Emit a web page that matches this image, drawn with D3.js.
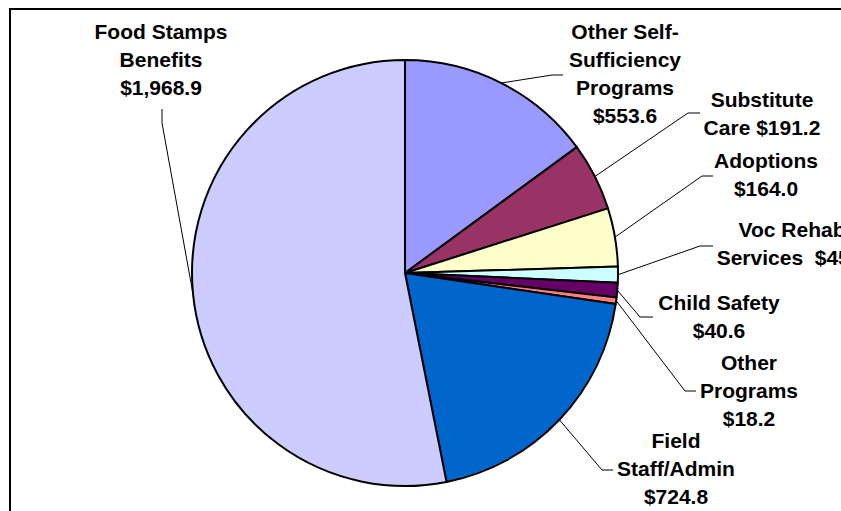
<!DOCTYPE html>
<html>
<head>
<meta charset="utf-8">
<script src="https://cdn.jsdelivr.net/npm/d3@7"></script>
<style>
  html, body { margin: 0; padding: 0; background: #fff; }
  svg { display: block; }
  text { font-family: "Liberation Sans", Arial, sans-serif; font-weight: bold; font-size: 21px; fill: #000; }
</style>
</head>
<body>
<svg id="chart" width="841" height="511"></svg>
<script>
// Budget by program area ($ millions), clockwise from 12 o'clock
const categories = [
  "Other Self-Sufficiency Programs",
  "Substitute Care",
  "Adoptions",
  "Voc Rehab Services",
  "Child Safety",
  "Other Programs",
  "Field Staff/Admin",
  "Food Stamps Benefits"
];
const values = [553.6, 191.2, 164.0, 45.1, 40.6, 18.2, 724.8, 1968.9];
const colors = ["#9999FF", "#993366", "#FFFFCC", "#CCFFFF", "#660066", "#FF8080", "#0066CC", "#CCCCFF"];

// How each label wraps; "{v}" is replaced by the formatted value
const labelLines = [
  ["Other Self-", "Sufficiency", "Programs", "{v}"],
  ["Substitute", "Care {v}"],
  ["Adoptions", "{v}"],
  ["Voc Rehab", "Services  {v}"],
  ["Child Safety", "{v}"],
  ["Other", "Programs", "{v}"],
  ["Field", "Staff/Admin", "{v}"],
  ["Food Stamps", "Benefits", "{v}"]
];

// Label placement: text centre x, first baseline, leader elbow and end
const labelLayout = [
  { x: 625, y: 39,  elbow: [552, 75],  end: [563, 75] },
  { x: 762, y: 107, elbow: [688, 113], end: [700, 113] },
  { x: 766, y: 168, elbow: [702, 176], end: [713, 176] },
  { x: 792, y: 237, elbow: [700, 246], end: [713, 246] },
  { x: 719, y: 310, elbow: [640, 317], end: [653, 317] },
  { x: 749, y: 370, elbow: [685, 391], end: [696, 391] },
  { x: 676, y: 448, elbow: [602, 470], end: [613, 470] },
  { x: 161, y: 39,  elbow: [162, 123], end: [162, 109] }
];

const W = 841, H = 511;
const cx = 405, cy = 273, R = 213;
const lineStep = 28;
const fmt = d3.format("$,.1f");

const svg = d3.select("#chart");

// Chart frame
svg.append("rect")
  .attr("x", 10).attr("y", 9)
  .attr("width", W + 20).attr("height", H + 20)
  .attr("fill", "#fff")
  .attr("stroke", "#000")
  .attr("stroke-width", 2);

const data = values.map((v, i) => ({ name: categories[i], value: v, color: colors[i], lines: labelLines[i], layout: labelLayout[i] }));

const pie = d3.pie().sort(null).value(d => d.value).startAngle(0).endAngle(2 * Math.PI);
const arcs = pie(data);
const arc = d3.arc().innerRadius(0).outerRadius(R);

const g = svg.append("g").attr("transform", `translate(${cx},${cy})`);

g.selectAll("path.slice")
  .data(arcs)
  .join("path")
  .attr("class", "slice")
  .attr("d", arc)
  .attr("fill", d => d.data.color)
  .attr("stroke", "#000")
  .attr("stroke-width", 2)
  .attr("stroke-linejoin", "round");

// Leader lines from each slice's outer midpoint to its label
svg.selectAll("polyline.leader")
  .data(arcs)
  .join("polyline")
  .attr("class", "leader")
  .attr("fill", "none")
  .attr("stroke", "#000")
  .attr("stroke-width", 1)
  .attr("points", d => {
    const mid = (d.startAngle + d.endAngle) / 2;
    const p = d3.pointRadial(mid, R);
    const L = d.data.layout;
    return [[cx + p[0], cy + p[1]], L.elbow, L.end].map(q => q.join(",")).join(" ");
  });

// Labels
const labels = svg.selectAll("text.label")
  .data(arcs)
  .join("text")
  .attr("class", "label")
  .attr("text-anchor", "middle")
  .attr("xml:space", "preserve")
  .style("white-space", "pre");

labels.each(function(d) {
  const t = d3.select(this);
  const L = d.data.layout;
  d.data.lines.forEach((ln, i) => {
    t.append("tspan")
      .attr("x", L.x)
      .attr("y", L.y + i * lineStep)
      .text(ln.replace("{v}", fmt(d.data.value)));
  });
});
</script>
</body>
</html>
